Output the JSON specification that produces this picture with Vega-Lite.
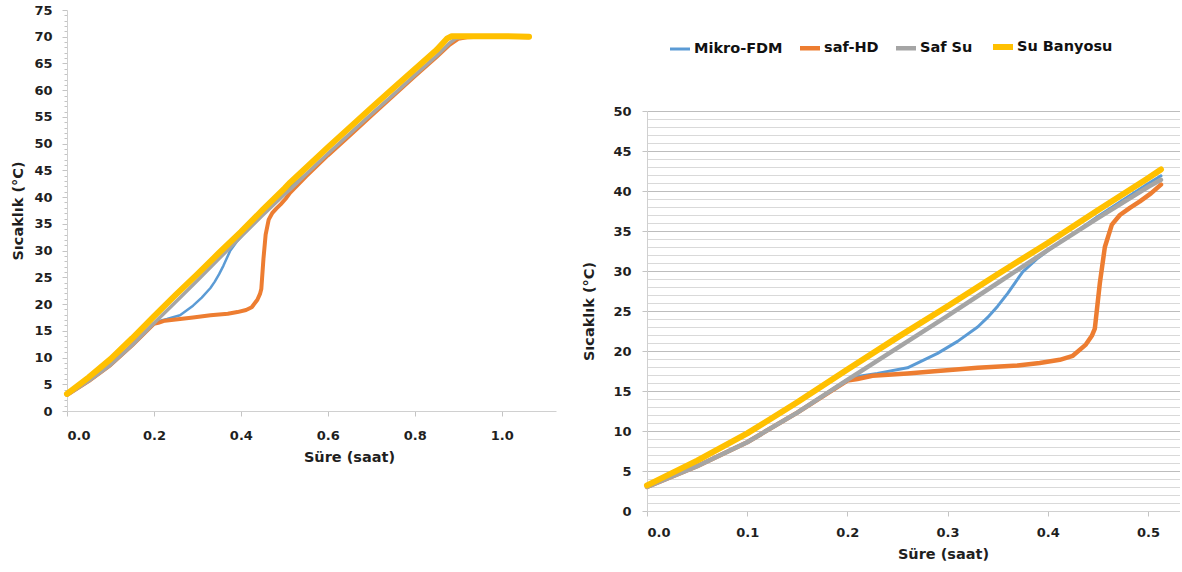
{
  "$schema": "https://vega.github.io/schema/vega-lite/v6.json",
  "padding": {"left": 10, "top": 4, "right": 0, "bottom": 0},
  "background": "white",
  "config": {
    "font": "DejaVu Sans",
    "view": {"stroke": null},
    "axis": {
      "labelFont": "DejaVu Sans", "labelFontWeight": "bold", "labelFontSize": 13, "labelColor": "#1f1f1f",
      "titleFont": "DejaVu Sans", "titleFontWeight": "bold", "titleFontSize": 14.5, "titleColor": "#1f1f1f",
      "domainColor": "#d0d0d0", "tickColor": "#c4c4c4", "grid": false, "labelOverlap": false
    }
  },
  "datasets": {
    "d": [
      {"s": "Mikro-FDM", "t": 0, "v": 3.0},
      {"s": "Mikro-FDM", "t": 0.05, "v": 5.6},
      {"s": "Mikro-FDM", "t": 0.1, "v": 8.6},
      {"s": "Mikro-FDM", "t": 0.15, "v": 12.3},
      {"s": "Mikro-FDM", "t": 0.2, "v": 16.4},
      {"s": "Mikro-FDM", "t": 0.21, "v": 16.8},
      {"s": "Mikro-FDM", "t": 0.23, "v": 17.2},
      {"s": "Mikro-FDM", "t": 0.26, "v": 17.9},
      {"s": "Mikro-FDM", "t": 0.29, "v": 19.7},
      {"s": "Mikro-FDM", "t": 0.31, "v": 21.2},
      {"s": "Mikro-FDM", "t": 0.33, "v": 23.0},
      {"s": "Mikro-FDM", "t": 0.34, "v": 24.2},
      {"s": "Mikro-FDM", "t": 0.35, "v": 25.6},
      {"s": "Mikro-FDM", "t": 0.36, "v": 27.2},
      {"s": "Mikro-FDM", "t": 0.375, "v": 29.9},
      {"s": "Mikro-FDM", "t": 0.39, "v": 31.6},
      {"s": "Mikro-FDM", "t": 0.405, "v": 33.0},
      {"s": "Mikro-FDM", "t": 0.42, "v": 34.2},
      {"s": "Mikro-FDM", "t": 0.45, "v": 36.8},
      {"s": "Mikro-FDM", "t": 0.5, "v": 40.9},
      {"s": "Mikro-FDM", "t": 0.513, "v": 41.9},
      {"s": "Mikro-FDM", "t": 0.55, "v": 44.3},
      {"s": "Mikro-FDM", "t": 0.6, "v": 48.1},
      {"s": "Mikro-FDM", "t": 0.65, "v": 51.8},
      {"s": "Mikro-FDM", "t": 0.7, "v": 55.5},
      {"s": "Mikro-FDM", "t": 0.75, "v": 59.1},
      {"s": "Mikro-FDM", "t": 0.8, "v": 62.8},
      {"s": "Mikro-FDM", "t": 0.85, "v": 66.4},
      {"s": "Mikro-FDM", "t": 0.88, "v": 68.8},
      {"s": "Mikro-FDM", "t": 0.895, "v": 69.7},
      {"s": "Mikro-FDM", "t": 0.91, "v": 69.9},
      {"s": "Mikro-FDM", "t": 0.95, "v": 70.0},
      {"s": "Mikro-FDM", "t": 1.0, "v": 70.0},
      {"s": "Mikro-FDM", "t": 1.063, "v": 69.9},

      {"s": "saf-HD", "t": 0, "v": 3.0},
      {"s": "saf-HD", "t": 0.05, "v": 5.6},
      {"s": "saf-HD", "t": 0.1, "v": 8.6},
      {"s": "saf-HD", "t": 0.15, "v": 12.3},
      {"s": "saf-HD", "t": 0.2, "v": 16.3},
      {"s": "saf-HD", "t": 0.21, "v": 16.5},
      {"s": "saf-HD", "t": 0.225, "v": 16.9},
      {"s": "saf-HD", "t": 0.26, "v": 17.2},
      {"s": "saf-HD", "t": 0.29, "v": 17.5},
      {"s": "saf-HD", "t": 0.33, "v": 17.9},
      {"s": "saf-HD", "t": 0.37, "v": 18.2},
      {"s": "saf-HD", "t": 0.392, "v": 18.5},
      {"s": "saf-HD", "t": 0.412, "v": 18.9},
      {"s": "saf-HD", "t": 0.425, "v": 19.4},
      {"s": "saf-HD", "t": 0.438, "v": 20.8},
      {"s": "saf-HD", "t": 0.444, "v": 21.9},
      {"s": "saf-HD", "t": 0.447, "v": 22.8},
      {"s": "saf-HD", "t": 0.452, "v": 28.5},
      {"s": "saf-HD", "t": 0.457, "v": 33.0},
      {"s": "saf-HD", "t": 0.464, "v": 35.8},
      {"s": "saf-HD", "t": 0.472, "v": 37.0},
      {"s": "saf-HD", "t": 0.482, "v": 37.9},
      {"s": "saf-HD", "t": 0.492, "v": 38.7},
      {"s": "saf-HD", "t": 0.503, "v": 39.7},
      {"s": "saf-HD", "t": 0.513, "v": 40.8},
      {"s": "saf-HD", "t": 0.55, "v": 43.9},
      {"s": "saf-HD", "t": 0.6, "v": 47.8},
      {"s": "saf-HD", "t": 0.65, "v": 51.5},
      {"s": "saf-HD", "t": 0.7, "v": 55.2},
      {"s": "saf-HD", "t": 0.75, "v": 58.9},
      {"s": "saf-HD", "t": 0.8, "v": 62.6},
      {"s": "saf-HD", "t": 0.85, "v": 66.2},
      {"s": "saf-HD", "t": 0.88, "v": 68.5},
      {"s": "saf-HD", "t": 0.9, "v": 69.6},
      {"s": "saf-HD", "t": 0.92, "v": 69.9},
      {"s": "saf-HD", "t": 0.95, "v": 70.0},
      {"s": "saf-HD", "t": 1.0, "v": 70.0},
      {"s": "saf-HD", "t": 1.063, "v": 69.9},

      {"s": "Saf Su", "t": 0, "v": 3.0},
      {"s": "Saf Su", "t": 0.05, "v": 5.6},
      {"s": "Saf Su", "t": 0.1, "v": 8.6},
      {"s": "Saf Su", "t": 0.15, "v": 12.3},
      {"s": "Saf Su", "t": 0.2, "v": 16.4},
      {"s": "Saf Su", "t": 0.25, "v": 20.4},
      {"s": "Saf Su", "t": 0.3, "v": 24.4},
      {"s": "Saf Su", "t": 0.35, "v": 28.5},
      {"s": "Saf Su", "t": 0.4, "v": 32.6},
      {"s": "Saf Su", "t": 0.45, "v": 36.6},
      {"s": "Saf Su", "t": 0.5, "v": 40.5},
      {"s": "Saf Su", "t": 0.513, "v": 41.4},
      {"s": "Saf Su", "t": 0.55, "v": 44.3},
      {"s": "Saf Su", "t": 0.6, "v": 48.1},
      {"s": "Saf Su", "t": 0.65, "v": 51.8},
      {"s": "Saf Su", "t": 0.7, "v": 55.5},
      {"s": "Saf Su", "t": 0.75, "v": 59.1},
      {"s": "Saf Su", "t": 0.8, "v": 62.8},
      {"s": "Saf Su", "t": 0.85, "v": 66.4},
      {"s": "Saf Su", "t": 0.88, "v": 68.8},
      {"s": "Saf Su", "t": 0.895, "v": 69.7},
      {"s": "Saf Su", "t": 0.91, "v": 69.9},
      {"s": "Saf Su", "t": 0.95, "v": 70.0},
      {"s": "Saf Su", "t": 1.0, "v": 70.0},
      {"s": "Saf Su", "t": 1.063, "v": 69.9},

      {"s": "Su Banyosu", "t": 0, "v": 3.2},
      {"s": "Su Banyosu", "t": 0.05, "v": 6.3},
      {"s": "Su Banyosu", "t": 0.1, "v": 9.7},
      {"s": "Su Banyosu", "t": 0.15, "v": 13.6},
      {"s": "Su Banyosu", "t": 0.2, "v": 17.7},
      {"s": "Su Banyosu", "t": 0.25, "v": 21.7},
      {"s": "Su Banyosu", "t": 0.3, "v": 25.6},
      {"s": "Su Banyosu", "t": 0.35, "v": 29.6},
      {"s": "Su Banyosu", "t": 0.4, "v": 33.5},
      {"s": "Su Banyosu", "t": 0.45, "v": 37.6},
      {"s": "Su Banyosu", "t": 0.5, "v": 41.6},
      {"s": "Su Banyosu", "t": 0.513, "v": 42.7},
      {"s": "Su Banyosu", "t": 0.55, "v": 45.5},
      {"s": "Su Banyosu", "t": 0.6, "v": 49.3},
      {"s": "Su Banyosu", "t": 0.65, "v": 53.0},
      {"s": "Su Banyosu", "t": 0.7, "v": 56.7},
      {"s": "Su Banyosu", "t": 0.75, "v": 60.3},
      {"s": "Su Banyosu", "t": 0.8, "v": 63.9},
      {"s": "Su Banyosu", "t": 0.85, "v": 67.5},
      {"s": "Su Banyosu", "t": 0.875, "v": 69.7},
      {"s": "Su Banyosu", "t": 0.885, "v": 70.1},
      {"s": "Su Banyosu", "t": 0.95, "v": 70.1},
      {"s": "Su Banyosu", "t": 1.0, "v": 70.1},
      {"s": "Su Banyosu", "t": 1.063, "v": 70.0}
    ]
  },
  "spacing": 25,
  "resolve": {"scale": {"color": "independent", "strokeWidth": "independent"}, "legend": {"color": "independent", "strokeWidth": "independent"}},
  "hconcat": [
    {
      "width": 489,
      "height": 401,
      "data": {"name": "d"},
      "mark": {"type": "line", "strokeJoin": "round", "strokeCap": "round"},
      "encoding": {
        "x": {
          "field": "t", "type": "quantitative",
          "scale": {"domain": [0, 1.125], "nice": false, "zero": false},
          "axis": {"title": "Süre (saat)", "values": [0, 0.2, 0.4, 0.6, 0.8, 1.0], "format": ".1f", "tickSize": 5, "labelPadding": 13, "titlePadding": 8, "titleX": 282}
        },
        "y": {
          "field": "v", "type": "quantitative",
          "scale": {"domain": [0, 75], "nice": false},
          "axis": {
            "title": "Sıcaklık (°C)",
            "values": [0,1,2,3,4,5,6,7,8,9,10,11,12,13,14,15,16,17,18,19,20,21,22,23,24,25,26,27,28,29,30,31,32,33,34,35,36,37,38,39,40,41,42,43,44,45,46,47,48,49,50,51,52,53,54,55,56,57,58,59,60,61,62,63,64,65,66,67,68,69,70,71,72,73,74,75],
            "labelExpr": "datum.value % 5 === 0 ? datum.label : ''",
            "tickSize": {"condition": {"test": "datum.value % 5 === 0", "value": 5}, "value": 3},
            "labelPadding": 10, "titlePadding": 8
          }
        },
        "color": {
          "field": "s", "type": "nominal",
          "scale": {"domain": ["Mikro-FDM", "saf-HD", "Saf Su", "Su Banyosu"], "range": ["#5B9BD5", "#ED7D31", "#A5A5A5", "#FFC000"]},
          "legend": null
        },
        "strokeWidth": {
          "field": "s", "type": "nominal",
          "scale": {"type": "ordinal", "domain": ["Mikro-FDM", "saf-HD", "Saf Su", "Su Banyosu"], "range": [2.5, 4, 3.5, 6]},
          "legend": null
        }
      }
    },
    {
      "spacing": 0,
      "vconcat": [
        {
          "width": 533,
          "height": 95,
          "data": {"values": []},
          "mark": {"type": "point", "opacity": 0},
          "encoding": {}
        },
        {
          "width": 533,
          "height": 400,
          "data": {"name": "d"},
          "transform": [{"filter": "datum.t <= 0.5131"}],
          "mark": {"type": "line", "strokeJoin": "round", "strokeCap": "round"},
          "encoding": {
            "x": {
              "field": "t", "type": "quantitative",
              "scale": {"domain": [0, 0.532], "nice": false, "zero": false},
              "axis": {"title": "Süre (saat)", "values": [0, 0.1, 0.2, 0.3, 0.4, 0.5], "format": ".1f", "tickSize": 5, "labelPadding": 10, "titlePadding": 8, "titleX": 296}
            },
            "y": {
              "field": "v", "type": "quantitative",
              "scale": {"domain": [0, 50], "nice": false},
              "axis": {
                "title": "Sıcaklık (°C)",
                "values": [0,1,2,3,4,5,6,7,8,9,10,11,12,13,14,15,16,17,18,19,20,21,22,23,24,25,26,27,28,29,30,31,32,33,34,35,36,37,38,39,40,41,42,43,44,45,46,47,48,49,50],
                "labelExpr": "datum.value % 5 === 0 ? datum.label : ''",
                "grid": true,
                "gridColor": {"condition": {"test": "datum.value % 5 === 0", "value": "#bdbdbd"}, "value": "#d9d9d9"},
                "gridWidth": 1,
                "tickSize": {"condition": {"test": "datum.value % 5 === 0", "value": 5}, "value": 0},
                "labelPadding": 11, "titlePadding": 16
              }
            },
            "color": {
              "field": "s", "type": "nominal",
              "scale": {"domain": ["Mikro-FDM", "saf-HD", "Saf Su", "Su Banyosu"], "range": ["#5B9BD5", "#ED7D31", "#A5A5A5", "#FFC000"]},
              "legend": {
                "orient": "none", "legendX": 20, "legendY": 24, "direction": "horizontal", "columns": 4,
                "title": null, "symbolType": "stroke", "symbolStrokeWidth": 2.5, "symbolSize": 400,
                "labelFont": "DejaVu Sans", "labelFontSize": 14.5, "labelFontWeight": "bold", "labelColor": "#111111",
                "labelOffset": 1, "columnPadding": 8
              }
            },
            "strokeWidth": {
              "field": "s", "type": "nominal",
              "scale": {"type": "ordinal", "domain": ["Mikro-FDM", "saf-HD", "Saf Su", "Su Banyosu"], "range": [3, 4.5, 4.5, 6]},
              "legend": null
            }
          }
        }
      ]
    }
  ]
}
